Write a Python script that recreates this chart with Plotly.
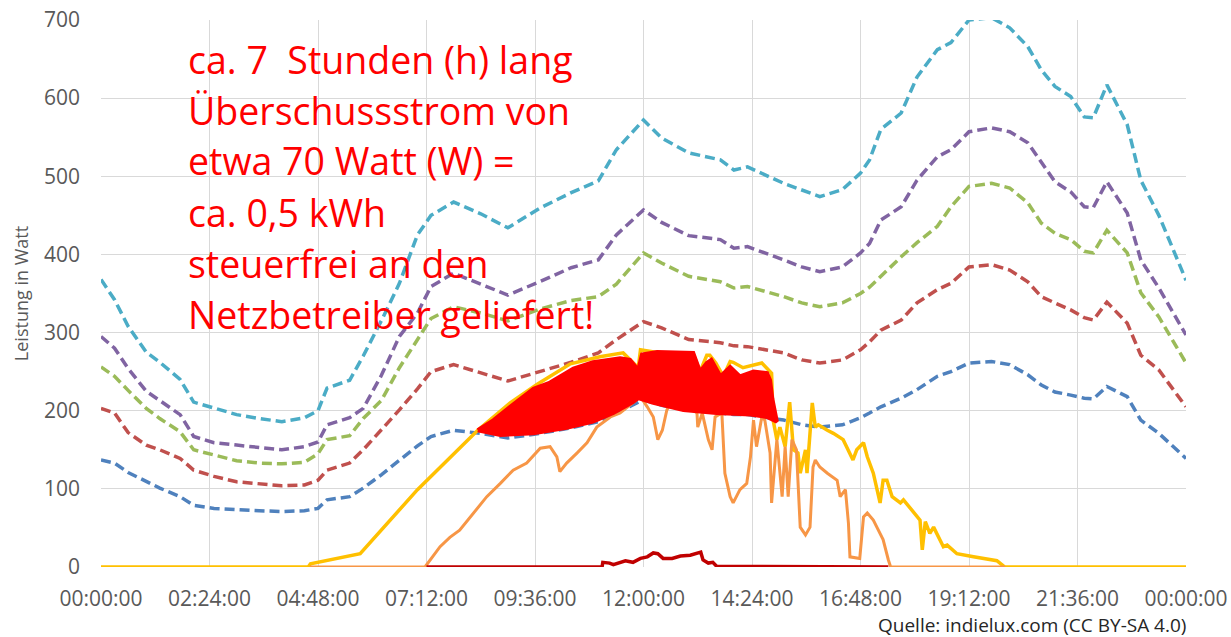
import pandas as pd
import plotly.graph_objects as go

# Tageslastprofile (W) und PV-Erzeugung
BASE = pd.Timestamp('2024-01-01')

profile_times = ['00:00', '00:18', '00:36', '01:00', '01:18', '01:45', '02:03', '02:30', '03:00', '03:30',
                 '04:00', '04:30', '04:48', '05:00', '05:30', '05:48', '06:12', '06:36', '07:00', '07:18',
                 '07:48', '08:24', '09:00', '09:42', '10:24', '11:00', '11:24', '12:00', '12:24', '13:00',
                 '13:42', '14:00', '14:18', '15:06', '15:30', '15:54', '16:24', '16:48', '17:00', '17:15',
                 '17:42', '18:03', '18:30', '18:48', '19:12', '19:42', '20:06', '20:30', '20:48', '21:06',
                 '21:27', '21:45', '21:57', '22:15', '22:42', '23:00', '23:24', '24:00']

last_blue = [137, 133, 121, 109, 101, 90, 79, 75, 73, 72,
             71, 72, 75, 86, 90, 101, 118, 137, 155, 167,
             175, 171, 165, 171, 178, 186, 197, 214, 207, 201,
             197, 195, 195, 188, 182, 179, 182, 191, 197, 205,
             216, 227, 244, 250, 261, 263, 259, 246, 233, 224,
             220, 216, 215, 231, 218, 188, 171, 139]

last_red = [203, 197, 172, 156, 150, 139, 124, 116, 109, 106,
            104, 105, 111, 124, 133, 150, 175, 201, 228, 250,
            259, 248, 238, 250, 262, 274, 291, 314, 306, 291,
            287, 283, 282, 274, 265, 261, 265, 278, 288, 303,
            316, 338, 355, 363, 384, 387, 380, 365, 346, 338,
            329, 319, 316, 339, 312, 271, 252, 205]

last_green = [256, 244, 226, 203, 190, 173, 150, 143, 136, 133,
              132, 134, 145, 163, 168, 190, 213, 255, 290, 318,
              333, 325, 315, 330, 341, 346, 362, 402, 389, 372,
              365, 357, 359, 346, 338, 333, 338, 350, 358, 372,
              397, 415, 436, 461, 487, 491, 485, 466, 440, 427,
              419, 404, 402, 431, 402, 351, 320, 261]

last_purple = [295, 280, 254, 225, 213, 195, 167, 159, 156, 153,
               150, 154, 160, 182, 191, 203, 245, 295, 325, 359,
               376, 362, 348, 365, 383, 393, 425, 457, 441, 424,
               419, 408, 410, 393, 384, 378, 384, 402, 414, 444,
               461, 495, 525, 534, 557, 562, 557, 543, 517, 493,
               480, 461, 460, 493, 453, 393, 357, 297]

last_cyan = [368, 342, 308, 275, 262, 240, 211, 203, 195, 190,
             186, 191, 200, 229, 239, 270, 315, 363, 425, 450,
             467, 452, 434, 459, 479, 494, 534, 572, 549, 530,
             521, 508, 512, 491, 483, 474, 483, 504, 521, 560,
             581, 627, 662, 671, 700, 703, 690, 666, 636, 615,
             602, 576, 575, 617, 566, 495, 450, 367]

pv_times = ['00:00', '04:35', '04:38', '05:44', '07:00', '08:20', '09:03', '09:39', '10:23', '11:02',
            '11:33', '11:46', '11:53', '11:56', '12:22', '13:06', '13:15', '13:24', '13:28', '13:36',
            '13:46', '13:55', '13:59', '14:12', '14:37', '14:50', '14:52', '14:57', '15:01', '15:08',
            '15:14', '15:19', '15:25', '15:28', '15:35', '15:37', '15:44', '15:48', '15:52', '16:04',
            '16:12', '16:25', '16:38', '16:43', '16:52', '16:57', '17:05', '17:14', '17:18', '17:23',
            '17:30', '17:41', '17:45', '18:07', '18:10', '18:14', '18:20', '18:25', '18:38', '18:43',
            '18:56', '19:18', '19:49', '19:58', '20:00', '24:00']
pv_watt = [0, 0, 4, 17, 99, 175, 210, 234, 260, 269,
           274, 262, 255, 278, 274, 273, 250, 271, 271, 261,
           244, 263, 262, 255, 261, 248, 188, 163, 179, 154,
           211, 150, 146, 120, 150, 120, 210, 179, 182, 175,
           171, 163, 137, 150, 159, 141, 120, 82, 111, 111,
           90, 82, 86, 60, 22, 58, 43, 51, 26, 28,
           17, 13, 8, 1, 0, 0]

pv2_times = ['04:37', '07:10', '07:30', '07:43', '07:56', '08:14', '08:32', '08:50', '09:07', '09:25',
             '09:43', '09:56', '10:05', '10:09', '10:18', '10:32', '10:45', '10:58', '11:16', '11:29',
             '11:46', '11:56', '12:05', '12:13', '12:19', '12:25', '12:31', '12:36', '12:45', '13:00',
             '13:11', '13:12', '13:18', '13:26', '13:31', '13:35', '13:44', '13:48', '13:55', '13:59',
             '14:08', '14:17', '14:22', '14:26', '14:30', '14:37', '14:41', '14:48', '14:50', '14:57',
             '15:04', '15:08', '15:12', '15:17', '15:23', '15:28', '15:35', '15:41', '15:45', '15:48',
             '15:54', '16:04', '16:17', '16:21', '16:28', '16:32', '16:34', '16:47', '16:52', '16:57',
             '17:05', '17:18', '17:25', '17:28', '20:00']
pv2_watt = [0, 0, 26, 38, 47, 69, 90, 107, 124, 133,
            152, 154, 141, 122, 133, 146, 159, 179, 192, 197,
            210, 218, 205, 192, 163, 175, 201, 210, 212, 205,
            197, 179, 197, 163, 150, 192, 197, 120, 90, 82,
            99, 107, 141, 188, 154, 192, 188, 146, 82, 163,
            90, 154, 90, 163, 150, 51, 41, 51, 128, 137,
            128, 120, 111, 90, 99, 56, 13, 11, 64, 69,
            60, 35, 9, 0, 0]

feed_times = ['07:12', '11:05', '11:06', '11:15', '11:20', '11:36', '11:46', '11:56', '12:05', '12:13',
              '12:19', '12:26', '12:38', '12:49', '13:02', '13:11', '13:16', '13:19', '13:26', '13:32',
              '13:37', '17:25']
feed_watt = [0, 0, 6, 5, 3, 8, 6, 11, 13, 18,
             17, 11, 11, 14, 15, 17, 19, 9, 5, 6,
             1, 0]

# hervorgehobener Ueberschuss (Flaeche zwischen PV und Grundlast)
surplus_top_times = ['08:20', '08:41', '09:03', '09:34', '09:56', '10:27', '10:53', '11:29', '11:42', '11:53',
                     '11:58', '12:18', '13:06', '13:15', '13:24', '13:30', '13:42', '13:55', '14:08', '14:26',
                     '14:44', '14:48', '14:51', '14:57']
surplus_top = [175, 188, 205, 228, 236, 254, 262, 267, 265, 252,
               272, 275, 274, 250, 261, 265, 244, 256, 244, 250,
               248, 239, 215, 186]
surplus_bot_times = ['08:20', '08:50', '09:34', '10:18', '10:53', '11:20', '11:46', '11:53', '12:13', '12:53',
                     '13:37', '14:22', '14:44', '14:57']
surplus_bot = [175, 169, 171, 178, 186, 197, 211, 216, 210, 201,
               197, 195, 192, 186]

text_lines = ['ca. 7  Stunden (h) lang', 'Überschussstrom von', 'etwa 70 Watt (W) =',
              'ca. 0,5 kWh', 'steuerfrei an den', 'Netzbetreiber geliefert!']
source_text = 'Quelle: indielux.com (CC BY-SA 4.0)'


def ts(lst):
    out = []
    for s in lst:
        h, m = s.split(':')
        out.append(BASE + pd.Timedelta(hours=int(h), minutes=int(m)))
    return out


fig = go.Figure()

dash = '10px,5px'
for vals, col in [(last_blue, '#4F81BD'), (last_red, '#C0504D'), (last_green, '#9BBB59'),
                  (last_purple, '#8064A2'), (last_cyan, '#4BACC6')]:
    fig.add_trace(go.Scatter(x=ts(profile_times), y=vals, mode='lines',
                             line=dict(color=col, width=3.5, dash=dash)))

fig.add_trace(go.Scatter(x=ts(pv_times), y=pv_watt, mode='lines',
                         line=dict(color='#FFC000', width=3.5)))
fig.add_trace(go.Scatter(x=ts(pv2_times), y=pv2_watt, mode='lines',
                         line=dict(color='#F79646', width=3)))
fig.add_trace(go.Scatter(x=ts(feed_times), y=feed_watt, mode='lines',
                         line=dict(color='#C00000', width=3.5)))

# rote Flaeche
poly_x = ts(surplus_top_times) + ts(surplus_bot_times)[::-1]
poly_y = surplus_top + surplus_bot[::-1]
fig.add_trace(go.Scatter(x=poly_x, y=poly_y, mode='lines', fill='toself',
                         fillcolor='#FF0000', line=dict(color='#FF0000', width=4)))

for i, line in enumerate(text_lines):
    fig.add_annotation(text=line, xref='paper', yref='paper', x=(186 - 101) / 1085,
                       y=(567 - (59 + i * 51)) / 547,
                       xanchor='left', yanchor='middle', showarrow=False,
                       font=dict(family='Open Sans', size=37.5, color='#FF0000'))

fig.add_annotation(text=source_text, xref='paper', yref='paper', x=(876 - 101) / 1085, y=(567 - 625) / 547,
                   xanchor='left', yanchor='middle', showarrow=False,
                   font=dict(family='Open Sans', size=19, color='#262626'))

fig.update_layout(
    width=1231, height=637,
    margin=dict(l=101, r=45, t=20, b=70),
    plot_bgcolor='white', paper_bgcolor='white',
    showlegend=False,
    font=dict(family='Open Sans', color='#595959'),
)
fig.update_xaxes(range=[BASE, BASE + pd.Timedelta(days=1)], tick0=BASE, dtick=8640000,
                 tickformat='%H:%M:%S', showgrid=True, gridcolor='#D9D9D9', gridwidth=1,
                 zeroline=False, ticks='', ticklabelstandoff=17, automargin=False,
                 tickfont=dict(size=21, color='#595959'))
fig.update_yaxes(range=[0, 700], dtick=100, showgrid=True, gridcolor='#D9D9D9', gridwidth=1,
                 zeroline=False, ticks='', ticklabelstandoff=20, automargin=False,
                 tickfont=dict(size=21, color='#595959'),
                 title=dict(text='Leistung in Watt', font=dict(size=18, color='#595959'), standoff=10))

fig.write_html("out.html", config={'displayModeBar': False},
               post_script="document.body.style.margin='0px';")
